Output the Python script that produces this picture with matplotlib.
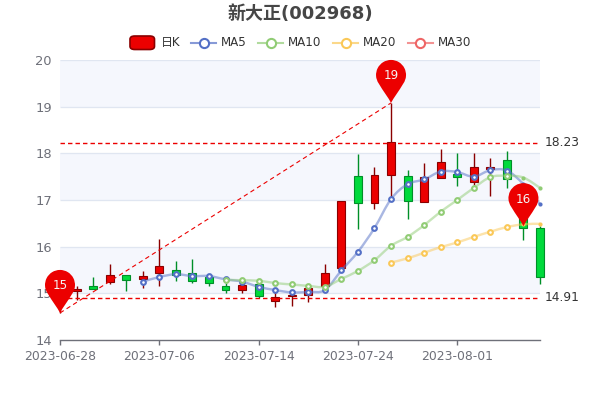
import numpy as np
import matplotlib
matplotlib.use('Agg')
import matplotlib.pyplot as plt
from matplotlib.patches import PathPatch, FancyBboxPatch
from matplotlib.path import Path
from matplotlib.lines import Line2D
from matplotlib.transforms import Affine2D

# donnees
dates = ['2023-06-28', '2023-06-29', '2023-06-30', '2023-07-03', '2023-07-04', '2023-07-05',
         '2023-07-06', '2023-07-07', '2023-07-10', '2023-07-11', '2023-07-12', '2023-07-13',
         '2023-07-14', '2023-07-17', '2023-07-18', '2023-07-19', '2023-07-20', '2023-07-21',
         '2023-07-24', '2023-07-25', '2023-07-26', '2023-07-27', '2023-07-28', '2023-07-31',
         '2023-08-01', '2023-08-02', '2023-08-03', '2023-08-04', '2023-08-07', '2023-08-08']
opens = [15.00, 15.05, 15.15, 15.25, 15.39, 15.31, 15.44, 15.51, 15.43, 15.34,
         15.15, 15.08, 15.19, 14.84, 14.94, 14.97, 15.16, 15.54, 17.51, 16.94,
         17.54, 17.51, 16.96, 17.47, 17.56, 17.39, 17.66, 17.86, 16.90, 16.39]
closes = [15.05, 15.09, 15.10, 15.39, 15.28, 15.37, 15.59, 15.39, 15.26, 15.22,
          15.08, 15.17, 14.95, 14.92, 14.96, 15.11, 15.44, 16.98, 16.93, 17.54,
          18.24, 16.98, 17.49, 17.81, 17.50, 17.70, 17.70, 17.44, 16.39, 15.36]
highs = [15.20, 15.16, 15.34, 15.63, 15.39, 15.48, 16.16, 15.69, 15.74, 15.36,
         15.23, 15.25, 15.25, 15.10, 15.00, 15.16, 15.63, 16.98, 17.98, 17.71,
         19.08, 17.65, 17.79, 18.09, 18.00, 18.00, 17.89, 18.04, 17.00, 16.44]
lows = [14.58, 14.86, 15.09, 15.20, 15.06, 15.12, 15.16, 15.27, 15.23, 15.16,
        15.01, 15.01, 14.90, 14.71, 14.73, 14.81, 15.10, 15.50, 16.37, 16.80,
        17.07, 16.59, 16.95, 17.47, 17.31, 17.32, 17.09, 17.26, 16.14, 15.21]
ma5 = [15.25, 15.35, 15.41, 15.37, 15.37, 15.30, 15.25, 15.14, 15.07, 15.02, 15.03, 15.07,
       15.49, 15.89, 16.40, 17.02, 17.34, 17.44, 17.61, 17.60, 17.50, 17.64, 17.63, 17.34, 16.91]
ma10 = [15.29, 15.28, 15.27, 15.22, 15.19, 15.16, 15.14, 15.31, 15.48, 15.71,
        16.02, 16.21, 16.46, 16.75, 17.00, 17.26, 17.49, 17.52, 17.48, 17.26]
ma20 = [15.66, 15.75, 15.87, 15.99, 16.09, 16.21, 16.32, 16.42, 16.48, 16.49]
max_line = 18.23
min_line = 14.91
pins = [(0, 14.58, '15'), (20, 19.08, '19'), (28, 16.44, '16')]
y_ticks = [14, 15, 16, 17, 18, 19, 20]

UP, UP_EDGE = '#ec0000', '#8a0000'
DOWN, DOWN_EDGE = '#00da3c', '#008f28'
C5, C10, C20, C30 = '#5470c6', '#91cc75', '#fac858', '#ee6666'
GREY = '#6e7079'
PX = 0.72  # 1 pixel en points, dpi=100
FONTS = ['DejaVu Sans', 'Noto Sans CJK SC']

plt.rcParams['font.family'] = FONTS
fig = plt.figure(figsize=(6, 4), dpi=100)
ax = fig.add_axes([60 / 600, 60 / 400, 480 / 600, 280 / 400])
n = len(dates)
x = np.arange(n)
ax.set_xlim(0, n - 1)
ax.set_ylim(14, 20)

# bandes de fond + grille
for y0 in y_ticks[:-1]:
    if y0 % 2 == 1:
        ax.axhspan(y0, y0 + 1, color='#f5f7fd', lw=0, zorder=0)
ax.hlines(y_ticks[1:], 0, n - 1, color='#e0e6f1', lw=1 * PX * 1.3, zorder=1)

for s in ['top', 'left', 'right']:
    ax.spines[s].set_visible(False)
ax.spines['bottom'].set_color(GREY)
ax.spines['bottom'].set_linewidth(1.0)
ax.set_yticks(y_ticks)
ax.tick_params(axis='y', length=0, pad=8 * PX, labelsize=9.4, labelcolor=GREY)
ax.set_xticks(x[::6])
ax.set_xticklabels(dates[::6])
ax.tick_params(axis='x', length=5 * PX, width=1.0, color=GREY, pad=5 * PX, labelsize=8.9, labelcolor=GREY)


# bougies
for i in x:
    up = closes[i] >= opens[i]
    ax.vlines(i, lows[i], highs[i], color=UP_EDGE if up else DOWN_EDGE, lw=1.0, zorder=2, clip_on=False)
    b = min(opens[i], closes[i])
    h = abs(closes[i] - opens[i])
    ax.bar(i, h, bottom=b, width=0.48, color=UP if up else DOWN, edgecolor=UP_EDGE if up else DOWN_EDGE,
           lw=0.8, zorder=3, clip_on=False)


def smooth_path(xs, ys):
    # courbe lissee passant par les points
    xs = np.asarray(xs, dtype=float)
    ys = np.asarray(ys, dtype=float)
    verts = [(xs[0], ys[0])]
    codes = [Path.MOVETO]
    for k in range(len(xs) - 1):
        a = max(k - 1, 0)
        d = min(k + 2, len(xs) - 1)
        verts.append((xs[k] + (xs[k + 1] - xs[a]) / 6, ys[k] + (ys[k + 1] - ys[a]) / 6))
        verts.append((xs[k + 1] - (xs[d] - xs[k]) / 6, ys[k + 1] - (ys[d] - ys[k]) / 6))
        verts.append((xs[k + 1], ys[k + 1]))
        codes += [Path.CURVE4, Path.CURVE4, Path.CURVE4]
    return Path(verts, codes)


for vals, col in [(ma5, C5), (ma10, C10), (ma20, C20)]:
    xs = x[n - len(vals):]
    ax.add_patch(PathPatch(smooth_path(xs, vals), fc='none', ec=col, lw=2 * PX * 1.2, alpha=0.5, zorder=4, clip_on=False))
    ax.plot(xs[:-2], vals[:-2], ls='', marker='o', ms=3.4, mfc='white', mec=col, mew=1.5, zorder=5, clip_on=False)
    ax.plot(xs[-2:], vals[-2:], ls='', marker='o', ms=3.0, mfc=col, mec=col, mew=0, zorder=5, clip_on=False)

# lignes de marque
ax.hlines([max_line, min_line], 0, n - 1, color=UP, lw=1.0, linestyles=(0, (3.2, 2.2)), zorder=6)
ax.plot([pins[0][0], pins[1][0]], [pins[0][1], pins[1][1]], color=UP, lw=0.8, ls=(0, (4, 3)), zorder=6)
for v in [max_line, min_line]:
    ax.annotate('%.2f' % v, xy=(n - 1, v), xytext=(5 * PX, 0), textcoords='offset points',
                ha='left', va='center', fontsize=8.8, color='#333333', annotation_clip=False)

# epingles
arc = Path.arc(-35, 215)
arc_v = arc.vertices * 15 + np.array([0, 28])
pin_v = list(map(tuple, arc_v)) + [(-8, 12), (-2.5, 5), (0, 0), (2.5, 5), (8, 12), tuple(arc_v[0])]
pin_c = list(arc.codes) + [Path.CURVE4] * 6
pin_path = Path(pin_v, pin_c)

for i, v, lab in pins:
    px, py = ax.transData.transform((i, v))
    fig.add_artist(PathPatch(pin_path, fc=UP, ec='none', zorder=10, transform=Affine2D().translate(px, py)))
    fig.text(px / 600, (py + 27) / 400, lab, color='#f4f4f4', fontsize=8.6, ha='center', va='center', zorder=11)

# titre
fig.text(300 / 600, 1 - 14 / 400, '新大正(002968)', fontweight='bold',
         fontsize=13, color='#464646', ha='center', va='center')

# legende
LY = 1 - 42.7 / 400
fig.add_artist(FancyBboxPatch((130 / 600, 1 - 49.5 / 400), 24.5 / 600, 13.5 / 400, boxstyle='round,pad=0,rounding_size=0.008',
                              fc=UP, ec=UP_EDGE, lw=1.2, transform=fig.transFigure))
fig.text(161 / 600, LY, '日K', fontsize=8.6, color='#333333', ha='left', va='center')
for x0, lab, col in [(191, 'MA5', C5), (258, 'MA10', C10), (333, 'MA20', C20), (407.7, 'MA30', C30)]:
    fig.add_artist(Line2D([x0 / 600, (x0 + 25) / 600], [LY, LY], color=col, lw=1.5, alpha=0.7, transform=fig.transFigure))
    fig.add_artist(Line2D([(x0 + 12.5) / 600], [LY], ls='', marker='o', ms=6.6, mfc='white', mec=col, mew=1.5, transform=fig.transFigure))
    fig.text((x0 + 30) / 600, LY, lab, fontsize=8.6, color='#333333', ha='left', va='center')

fig.savefig('out.png', dpi=100)
